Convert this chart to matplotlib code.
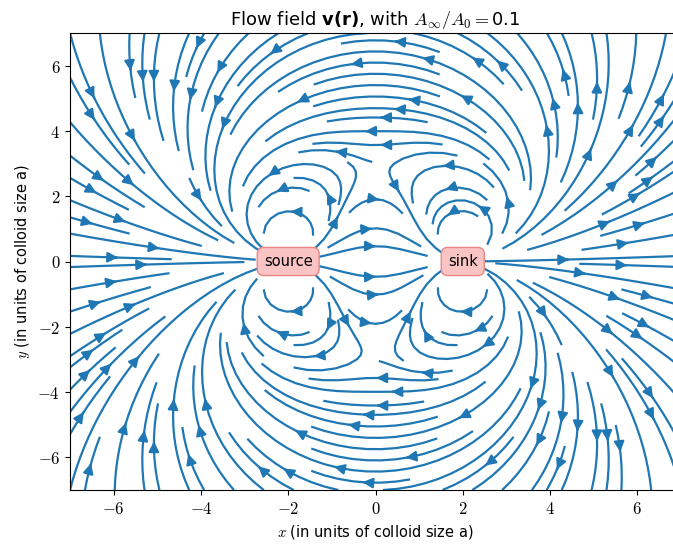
import numpy as np
import matplotlib.pyplot as plt

plt.rcParams['mathtext.fontset'] = 'custom'
plt.rcParams['mathtext.rm'] = 'cmr10'
plt.rcParams['mathtext.it'] = 'cmmi10'
plt.rcParams['mathtext.bf'] = 'DejaVu Sans:bold'
plt.rcParams['mathtext.sf'] = 'DejaVu Sans'
plt.rcParams['mathtext.fallback'] = 'cm'

# point singularities of the flow (positions in units of a)
label_names = ['source', 'sink']
label_x = [-2.0, 2.0]
dipole_x = [-2.0, 2.0]
dipole_p = [1.0, 1.0]
ticks = [-6, -4, -2, 0, 2, 4, 6]
ratio = 0.1

x = np.linspace(-7, 7, 200)
y = np.linspace(-7, 7, 200)
X, Y = np.meshgrid(x, y)
U = np.zeros_like(X)
V = np.zeros_like(X)

# dipolar flow of each point, seen in the plane z = 0
for x0, p in zip(dipole_x, dipole_p):
    dx = X - x0
    r = np.sqrt(dx**2 + Y**2)
    pr = p * dx / r
    U += (3 * pr * dx / r - p) / r**3
    V += (3 * pr * Y / r) / r**3

fig = plt.figure(figsize=(6.73, 5.45), dpi=100)
ax = fig.add_axes([70 / 673, 55 / 545, 611 / 673, 457 / 545])

ax.streamplot(X, Y, U, V, density=1.4, linewidth=1.6, arrowsize=1.5, color='C0')

for name, lx in zip(label_names, label_x):
    ax.text(lx, 0, name, ha='center', va='center', fontsize=10.5,
            bbox=dict(boxstyle='round,pad=0.45', facecolor=(0.98, 0.77, 0.77),
                      edgecolor=(0.93, 0.52, 0.52)))

ax.set_xlim(-7, 7)
ax.set_ylim(-7, 7)
ax.set_xticks(ticks)
ax.set_yticks(ticks)
ax.set_xticklabels([f'${t}$' for t in ticks], fontsize=12)
ax.set_yticklabels([f'${t}$' for t in ticks], fontsize=12)
ax.set_xlabel('$x$ (in units of colloid size a)', fontsize=10.5)
ax.set_ylabel('$y$ (in units of colloid size a)', fontsize=10.5)
ax.set_title(r'Flow field $\mathbf{v(r)}$, with $A_\infty/A_0 = \mathsf{' + f'{ratio}' + '}$', fontsize=13)

plt.savefig('out.png')
